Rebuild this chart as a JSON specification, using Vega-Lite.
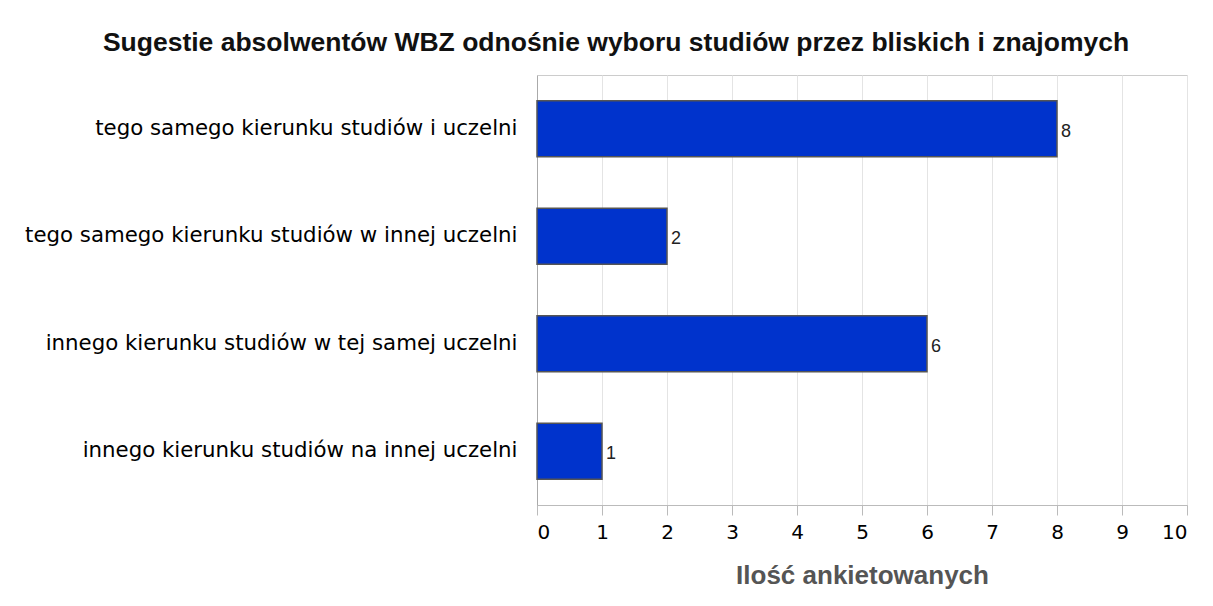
{
  "$schema": "https://vega.github.io/schema/vega-lite/v6.json",
  "width": 650,
  "height": 430,
  "autosize": "none",
  "padding": {"left": 537, "top": 75, "right": 26, "bottom": 101},
  "background": "white",
  "title": {
    "text": "Sugestie absolwentów WBZ odnośnie wyboru studiów przez bliskich i znajomych",
    "font": "Liberation Sans",
    "fontSize": 26.5,
    "fontWeight": "bold",
    "color": "#111111",
    "anchor": "middle",
    "baseline": "alphabetic",
    "dx": -246,
    "offset": -2
  },
  "data": {
    "values": [
      {"kategoria": "tego samego kierunku studiów i uczelni", "ilosc": 8},
      {"kategoria": "tego samego kierunku studiów w innej uczelni", "ilosc": 2},
      {"kategoria": "innego kierunku studiów w tej samej uczelni", "ilosc": 6},
      {"kategoria": "innego kierunku studiów na innej uczelni", "ilosc": 1}
    ]
  },
  "encoding": {
    "y": {
      "field": "kategoria",
      "type": "nominal",
      "sort": null,
      "scale": {"paddingInner": 0.48, "paddingOuter": 0.24},
      "axis": {
        "title": null,
        "labelFont": "DejaVu Sans",
        "labelFontSize": 21.3,
        "labelColor": "#000000",
        "labelPadding": 20,
        "labelLimit": 600,
        "ticks": false,
        "domainColor": "#aaaaaa",
        "grid": false
      }
    },
    "x": {
      "field": "ilosc",
      "type": "quantitative",
      "scale": {"domain": [0, 10], "nice": false},
      "axis": {
        "title": "Ilość ankietowanych",
        "titleFont": "Liberation Sans",
        "titleFontSize": 26,
        "titleFontWeight": "bold",
        "titleColor": "#555555",
        "titleBaseline": "alphabetic",
        "titlePadding": 41,
        "values": [0, 1, 2, 3, 4, 5, 6, 7, 8, 9, 10],
        "labelFont": "DejaVu Sans",
        "labelFontSize": 20,
        "labelColor": "#000000",
        "labelPadding": 7,
        "tickColor": "#bbbbbb",
        "tickSize": 10,
        "domainColor": "#bbbbbb",
        "gridColor": "#e4e4e4",
        "grid": true
      }
    }
  },
  "layer": [
    {
      "mark": {"type": "bar", "color": "#0033cc", "stroke": "#555555", "strokeWidth": 1.5}
    },
    {
      "mark": {"type": "text", "align": "left", "baseline": "middle", "dx": 4, "dy": 3, "font": "Liberation Sans", "fontSize": 18, "color": "#222222"},
      "encoding": {"text": {"field": "ilosc", "type": "quantitative"}}
    }
  ],
  "config": {
    "view": {"stroke": "#cccccc"}
  }
}
